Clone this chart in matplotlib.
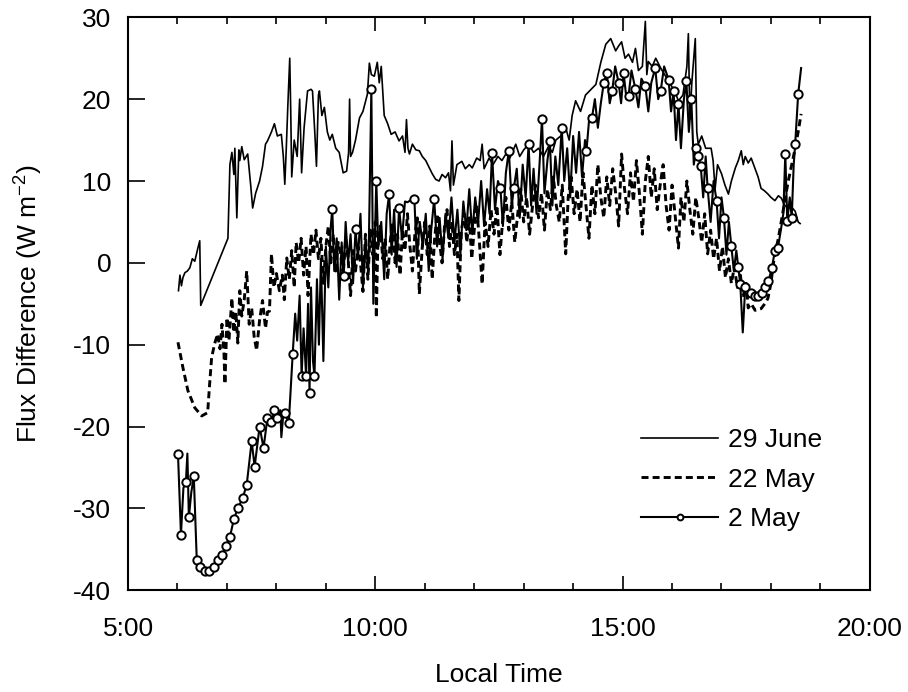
import matplotlib.pyplot as plt
from matplotlib.ticker import FixedLocator, MultipleLocator, FuncFormatter

plt.rcParams['font.family'] = ['Liberation Sans', 'DejaVu Sans']
plt.rcParams['mathtext.default'] = 'regular'
plt.rcParams['axes.unicode_minus'] = False

# --- 29 June (thin solid line) ---
june_t = [6.02, 6.05, 6.08, 6.11, 6.15, 6.20, 6.25, 6.30, 6.35, 6.40, 6.45, 6.47,
          7.02, 7.06, 7.10, 7.14, 7.16, 7.20, 7.24, 7.26, 7.30, 7.35, 7.42, 7.48,
          7.52, 7.58, 7.66, 7.72, 7.78, 7.82, 7.90, 7.96, 8.02, 8.10, 8.14, 8.17,
          8.20, 8.23, 8.27, 8.29, 8.31, 8.36, 8.42, 8.47, 8.51, 8.56, 8.63, 8.70,
          8.73, 8.78, 8.81, 8.85, 8.87, 8.92, 8.97, 9.03, 9.08, 9.13, 9.20, 9.27,
          9.35, 9.42, 9.46, 9.48, 9.50, 9.54, 9.60, 9.68, 9.75, 9.84, 9.88, 9.92,
          9.98, 10.04, 10.08, 10.12, 10.18, 10.25, 10.32, 10.40, 10.48, 10.55, 10.60, 10.63,
          10.66, 10.69, 10.75, 10.82, 10.89, 10.95, 11.02, 11.10, 11.15, 11.22, 11.29, 11.35,
          11.42, 11.48, 11.52, 11.55, 11.58, 11.65, 11.75, 11.82, 11.90, 11.96, 12.05, 12.12,
          12.16, 12.20, 12.30, 12.38, 12.48, 12.56, 12.64, 12.72, 12.84, 12.92, 13.00, 13.10,
          13.20, 13.30, 13.40, 13.50, 13.58, 13.65, 13.75, 13.85, 13.92, 13.98, 14.05, 14.15,
          14.25, 14.38, 14.46, 14.56, 14.66, 14.76, 14.86, 14.92, 14.98, 15.05, 15.12, 15.20,
          15.26, 15.32, 15.40, 15.46, 15.49, 15.52, 15.60, 15.67, 15.77, 15.85, 15.93, 16.05,
          16.13, 16.22, 16.30, 16.33, 16.36, 16.40, 16.47, 16.50, 16.53, 16.60, 16.68, 16.79,
          16.83, 16.87, 16.92, 17.00, 17.07, 17.14, 17.20, 17.28, 17.34, 17.40, 17.44, 17.48,
          17.54, 17.60, 17.68, 17.74, 17.80, 17.87, 17.94, 18.00, 18.08, 18.15, 18.21, 18.28,
          18.35, 18.42, 18.49, 18.55, 18.59]
june_v = [-3.4, -1.5, -2.8, -1.8, -1.2, -1.0, -0.6, 0.5, 0.2, 1.5, 2.7, -5.2,
          3.0, 12.0, 13.5, 10.8, 14.0, 5.5, 13.8, 12.5, 14.2, 12.6, 13.3, 9.5,
          6.7, 8.5, 10.0, 11.8, 14.5, 14.9, 16.0, 17.0, 15.5, 15.7, 13.0, 9.6,
          14.0, 19.0, 25.0, 18.5, 10.5, 15.0, 13.0, 20.0, 11.0, 16.5, 21.0, 21.2,
          21.0, 15.5, 11.8, 20.5, 21.0, 18.0, 19.0, 16.0, 15.0, 15.7, 14.0, 13.5,
          11.0, 11.2, 13.5, 20.0, 13.0, 13.5, 15.0, 17.7, 18.5, 20.6, 24.4, 23.0,
          22.8, 24.5, 22.0, 24.0, 18.0, 17.0, 15.7, 16.0, 14.9, 15.5, 13.5, 17.5,
          14.0, 13.3, 14.5, 13.8, 13.7, 13.0, 12.5, 11.5, 10.9, 10.2, 10.0, 10.8,
          10.4, 11.0, 8.8, 14.9, 9.5, 12.0, 12.4, 11.5, 12.0, 11.6, 12.8, 12.5,
          14.5, 11.5, 12.8, 12.0, 13.0, 12.5, 13.3, 12.8, 14.5, 13.0, 13.8, 14.5,
          13.5, 14.0, 13.0, 14.2, 13.5, 15.0, 15.5, 16.5, 15.0, 18.0, 19.8, 18.5,
          20.5, 21.3, 21.8, 24.5, 26.7, 27.4, 25.9, 26.5, 27.0, 25.0, 25.5, 24.5,
          26.2, 23.5, 24.0, 29.5, 23.0, 24.6, 24.0, 25.0, 23.8, 23.0, 22.2, 21.0,
          19.8, 20.5, 24.0, 28.0, 17.5, 22.0, 27.4, 16.0, 14.5, 15.5, 14.0, 14.0,
          12.5, 9.0, 12.0, 10.9, 9.5, 8.4, 10.0, 11.6, 12.5, 13.7, 12.0, 13.0,
          12.2, 12.8, 11.5, 10.5, 9.1, 8.8, 8.4, 8.0, 7.6, 8.2, 7.9, 7.0,
          6.7, 6.8, 6.3, 5.0, 4.8]

# --- 22 May (dashed line) ---
may22_t = [6.01, 6.11, 6.21, 6.35, 6.49, 6.61, 6.65, 6.69, 6.75, 6.81, 6.86, 6.90,
           6.94, 6.96, 7.00, 7.04, 7.07, 7.10, 7.14, 7.18, 7.22, 7.26, 7.30, 7.35,
           7.40, 7.45, 7.50, 7.55, 7.60, 7.66, 7.72, 7.78, 7.82, 7.86, 7.90, 7.95,
           8.00, 8.06, 8.12, 8.16, 8.21, 8.26, 8.31, 8.36, 8.40, 8.45, 8.50, 8.55,
           8.60, 8.64, 8.70, 8.75, 8.80, 8.85, 8.90, 8.95, 9.00, 9.05, 9.10, 9.15,
           9.20, 9.25, 9.30, 9.35, 9.40, 9.45, 9.50, 9.55, 9.60, 9.65, 9.70, 9.75,
           9.80, 9.85, 9.90, 9.95, 10.00, 10.02, 10.05, 10.10, 10.15, 10.20, 10.25, 10.30,
           10.35, 10.40, 10.45, 10.50, 10.55, 10.60, 10.65, 10.70, 10.75, 10.80, 10.85, 10.89,
           10.95, 11.00, 11.05, 11.10, 11.15, 11.20, 11.25, 11.30, 11.35, 11.40, 11.45, 11.50,
           11.55, 11.60, 11.65, 11.69, 11.74, 11.80, 11.85, 11.90, 11.95, 12.00, 12.05, 12.10,
           12.16, 12.22, 12.28, 12.34, 12.40, 12.46, 12.52, 12.58, 12.64, 12.70, 12.76, 12.82,
           12.88, 12.94, 13.00, 13.06, 13.12, 13.18, 13.24, 13.30, 13.36, 13.42, 13.48, 13.54,
           13.60, 13.66, 13.72, 13.78, 13.85, 13.90, 13.96, 14.02, 14.08, 14.14, 14.20, 14.26,
           14.32, 14.38, 14.44, 14.50, 14.56, 14.62, 14.68, 14.74, 14.80, 14.86, 14.92, 14.98,
           15.04, 15.10, 15.16, 15.22, 15.28, 15.34, 15.40, 15.46, 15.52, 15.58, 15.64, 15.70,
           15.76, 15.82, 15.88, 15.94, 16.00, 16.06, 16.13, 16.18, 16.24, 16.30, 16.36, 16.42,
           16.48, 16.54, 16.60, 16.66, 16.72, 16.78, 16.84, 16.90, 16.96, 17.02, 17.08, 17.14,
           17.20, 17.26, 17.32, 17.38, 17.44, 17.50, 17.54, 17.60, 17.68, 17.80, 17.90, 17.94,
           18.00, 18.04, 18.08, 18.15, 18.21, 18.28, 18.35, 18.42, 18.49, 18.55, 18.61]
may22_v = [-9.7, -12.8, -15.6, -17.7, -18.7, -18.3, -14.8, -11.6, -9.9, -8.7, -10.5, -7.5,
           -11.0, -14.8, -6.7, -9.5, -7.0, -4.3, -8.5, -6.0, -9.8, -3.4, -6.5, -4.5,
           -1.0, -7.5, -5.5, -9.0, -10.7, -7.0, -4.6, -8.0, -6.0, -5.9, 1.1, -3.0,
           -1.3, -3.4, -1.5, -4.5, 0.6, -2.0, 1.5, -3.0, 2.5, 0.0, 3.0, -1.5,
           2.0, -4.0, 3.5, 1.0, 4.0, 0.5, 3.0, -2.5, 2.0, 4.5, 0.0, 3.5,
           -1.0, 2.5, 1.0, -1.5, 3.0, 0.5, -4.0, 1.5, -1.0, 2.0, 0.0, -3.5,
           3.5, -2.0, 4.0, 1.0, 5.0, -6.7, 2.0, 4.5, 0.5, 3.0, -2.0, 2.5,
           5.0, 0.0, 3.5, -1.5, 4.0, 1.5, 6.0, 2.0, -1.0, 3.5, 5.5, -3.8,
           2.0, 5.0, 1.0, 4.5, -2.0, 3.0, 6.0, 2.5, 0.0, 4.5, 6.5, 2.0,
           5.0, 1.0, 3.5, -4.6, 4.0, 6.0, 2.5, 5.5, 0.5, 4.0, 7.0, 3.0,
           -2.6, 5.0, 2.0, 6.5, 3.5, 7.0, 1.0, 5.5, 8.0, 4.0, 7.5, 2.5,
           6.0, 9.0, 5.0, 8.0, 3.5, 7.0, 9.5, 5.5, 8.5, 4.0, 9.0, 6.5,
           10.5, 7.0, 5.0, 9.5, 1.1, 8.0, 10.5, 6.0, 9.0, 5.0, 11.0, 7.0,
           3.0, 9.5, 6.0, 12.0, 8.0, 5.5, 10.5, 7.0, 11.5, 8.5, 4.5, 13.3,
           9.0, 6.0, 11.0, 7.5, 12.5, 8.5, 3.5, 10.0, 13.0, 8.0, 11.5, 6.5,
           9.5, 12.0, 7.0, 4.0, 9.5, 6.0, 1.8, 8.0, 5.0, 10.0, 6.5, 3.5,
           8.0, 5.5, 2.5, 6.0, 1.1, 4.0, 0.5, 3.0, -1.0, 2.0, -1.8, 0.5,
           -2.5, -0.5, -3.0, -1.5, -4.0, -2.5, -5.5, -5.0, -5.8, -5.6, -4.8, -4.3,
           -2.5, -0.5, 1.1, 3.0, 5.1, 7.5, 10.0, 12.0, 14.0, 16.0, 18.2]

# --- 2 May (solid line, open circles where mark == 1) ---
may2_t = [6.01, 6.07, 6.12, 6.17, 6.20, 6.23, 6.28, 6.33, 6.39, 6.45, 6.55, 6.63,
          6.73, 6.81, 6.90, 6.98, 7.06, 7.14, 7.22, 7.32, 7.40, 7.50, 7.56, 7.66,
          7.74, 7.82, 7.90, 7.96, 8.02, 8.08, 8.10, 8.14, 8.17, 8.25, 8.33, 8.38,
          8.42, 8.47, 8.51, 8.55, 8.60, 8.64, 8.67, 8.70, 8.74, 8.77, 8.82, 8.86,
          8.90, 8.95, 9.00, 9.05, 9.10, 9.13, 9.17, 9.22, 9.27, 9.32, 9.36, 9.40,
          9.45, 9.50, 9.55, 9.60, 9.65, 9.70, 9.75, 9.80, 9.86, 9.92, 9.96, 10.02,
          10.06, 10.12, 10.18, 10.23, 10.28, 10.33, 10.38, 10.43, 10.48, 10.54, 10.60, 10.65,
          10.70, 10.79, 10.84, 10.90, 10.96, 11.02, 11.08, 11.13, 11.19, 11.25, 11.30, 11.36,
          11.42, 11.48, 11.54, 11.60, 11.66, 11.72, 11.78, 11.84, 11.90, 11.96, 12.02, 12.08,
          12.14, 12.20, 12.26, 12.31, 12.36, 12.42, 12.48, 12.53, 12.58, 12.64, 12.70, 12.76,
          12.80, 12.86, 12.92, 12.98, 13.04, 13.10, 13.15, 13.20, 13.26, 13.32, 13.37, 13.42,
          13.48, 13.53, 13.58, 13.64, 13.70, 13.77, 13.82, 13.88, 13.94, 14.00, 14.06, 14.12,
          14.18, 14.24, 14.27, 14.33, 14.38, 14.44, 14.50, 14.56, 14.62, 14.68, 14.74, 14.79,
          14.85, 14.92, 14.97, 15.02, 15.08, 15.12, 15.18, 15.26, 15.32, 15.38, 15.46, 15.52,
          15.58, 15.66, 15.72, 15.77, 15.84, 15.93, 15.98, 16.03, 16.08, 16.13, 16.18, 16.24,
          16.29, 16.34, 16.39, 16.44, 16.49, 16.53, 16.58, 16.63, 16.68, 16.72, 16.78, 16.84,
          16.90, 16.95, 17.00, 17.05, 17.10, 17.15, 17.20, 17.25, 17.30, 17.34, 17.38, 17.43,
          17.48, 17.60, 17.67, 17.74, 17.81, 17.88, 17.95, 18.02, 18.08, 18.14, 18.20, 18.25,
          18.29, 18.33, 18.38, 18.42, 18.46, 18.49, 18.55, 18.61]
may2_v = [-23.3, -33.2, -27.5, -26.8, -23.3, -31.1, -28.0, -26.1, -36.3, -37.2, -37.6, -37.6,
          -37.2, -36.3, -35.7, -34.6, -33.5, -31.3, -30.0, -28.7, -27.1, -21.8, -24.9, -20.0,
          -22.6, -18.9, -19.5, -18.0, -19.0, -18.0, -21.3, -18.5, -18.3, -19.6, -11.1, -6.2,
          -9.5, -4.0, -13.8, -8.0, -13.8, -5.0, -15.9, -3.0, -12.0, -13.8, -2.0, -10.0,
          0.5, -12.0, 2.0, -3.0, 4.5, 6.6, -1.0, 3.0, -4.5, 2.5, -1.6, 5.0,
          0.0, 3.5, -2.5, 4.1, 0.5, 6.0, -3.0, 2.5, -1.0, 21.2, -5.0, 10.0,
          2.0, 5.0, -2.0, 6.0, 8.4, 1.0, 6.5, -0.5, 6.7, 3.0, 7.5, 7.4,
          7.6, 7.8, 0.5, 5.0, 2.0, 6.0, -1.0, 4.0, 7.8, 2.0, 5.5, 0.5,
          6.0, 3.0, 8.0, 2.5, 6.5, 1.0, 7.5, 4.0, 9.0, 3.5, 8.0, 5.0,
          10.0, 4.5, 9.0, 6.0, 13.4, 6.5, 10.0, 9.1, 4.5, 11.0, 13.7, 7.0,
          9.1, 11.5, 5.5, 12.0, 8.0, 14.5, 7.0, 11.5, 6.0, 12.0, 17.6, 8.5,
          12.5, 14.9, 7.0, 13.0, 9.5, 16.5, 10.0, 14.0, 8.0, 15.5, 11.0, 16.0,
          10.5, 15.0, 13.7, 18.0, 17.7, 20.0, 16.5, 19.5, 22.0, 23.2, 19.5, 21.0,
          24.0, 22.0, 19.5, 23.2, 20.0, 20.4, 23.5, 21.2, 19.0, 22.5, 21.6, 18.5,
          22.0, 23.8, 20.0, 21.0, 24.0, 22.4, 18.5, 21.0, 15.0, 19.4, 14.0, 20.0,
          22.2, 16.0, 20.0, 12.0, 14.0, 13.0, 11.8, 8.0, 13.0, 9.1, 5.0, 10.0,
          7.6, 3.0, 8.0, 5.5, 1.0, 5.0, 2.0, -1.0, 1.5, -0.5, -2.6, -8.5,
          -3.0, -3.7, -4.0, -4.0, -3.7, -3.0, -2.2, -0.6, 1.5, 1.8, 4.0, 6.0,
          13.3, 5.1, 8.0, 5.5, 12.0, 14.5, 20.6, 23.8]
may2_mark = [1, 1, 0, 1, 0, 1, 0, 1, 1, 1, 1, 1,
             1, 1, 1, 1, 1, 1, 1, 1, 1, 1, 1, 1,
             1, 1, 1, 1, 1, 0, 0, 0, 1, 1, 1, 0,
             0, 0, 1, 0, 1, 0, 1, 0, 0, 1, 0, 0,
             0, 0, 0, 0, 0, 1, 0, 0, 0, 0, 1, 0,
             0, 0, 0, 1, 0, 0, 0, 0, 0, 1, 0, 1,
             0, 0, 0, 0, 1, 0, 0, 0, 1, 0, 0, 0,
             0, 1, 0, 0, 0, 0, 0, 0, 1, 0, 0, 0,
             0, 0, 0, 0, 0, 0, 0, 0, 0, 0, 0, 0,
             0, 0, 0, 0, 1, 0, 0, 1, 0, 0, 1, 0,
             1, 0, 0, 0, 0, 1, 0, 0, 0, 0, 1, 0,
             0, 1, 0, 0, 0, 1, 0, 0, 0, 0, 0, 0,
             0, 0, 1, 0, 1, 0, 0, 0, 1, 1, 0, 1,
             0, 1, 0, 1, 0, 1, 0, 1, 0, 0, 1, 0,
             0, 1, 0, 1, 0, 1, 0, 1, 0, 1, 0, 0,
             1, 0, 1, 0, 1, 1, 1, 0, 0, 1, 0, 0,
             1, 0, 0, 1, 0, 0, 1, 0, 0, 1, 1, 0,
             1, 1, 1, 1, 1, 1, 1, 1, 1, 1, 0, 0,
             1, 1, 0, 1, 0, 1, 1, 0]

x_ticks = [5, 10, 15, 20]
y_ticks = [-40, -30, -20, -10, 0, 10, 20, 30]

fig = plt.figure(figsize=(9.08, 6.92), dpi=100)
ax = fig.add_axes([0.141, 0.147, 0.817, 0.828])

ax.plot(june_t, june_v, color='black', lw=1.2, label='29 June')
ax.plot(may22_t, may22_v, color='black', lw=2.1, ls=(0, (2.4, 1.4)), label='22 May')
marks = [i for i, m in enumerate(may2_mark) if m]
ax.plot(may2_t, may2_v, color='black', lw=1.5, marker='o', markevery=marks,
        ms=6, mfc='white', mec='black', mew=1.4, label='2 May')

ax.set_xlim(5, 20)
ax.set_ylim(-40, 30)
ax.xaxis.set_major_locator(FixedLocator(x_ticks))
ax.xaxis.set_minor_locator(MultipleLocator(1))
ax.xaxis.set_major_formatter(FuncFormatter(lambda v, p: '%d:00' % v))
ax.yaxis.set_major_locator(FixedLocator(y_ticks))

ax.tick_params(axis='x', which='both', direction='in', top=True, bottom=True,
               labelsize=19, pad=19, width=1.2)
ax.tick_params(axis='x', which='major', length=10)
ax.tick_params(axis='x', which='minor', length=5)
ax.tick_params(axis='y', which='major', direction='in', length=12, width=1.2,
               labelsize=19, pad=12)
for s in ax.spines.values():
    s.set_linewidth(1.5)

ax.set_xlabel('Local Time', fontsize=19, labelpad=16)
ax.set_ylabel('Flux Difference (W m$^{-2}$)', fontsize=19, labelpad=20)

ax.legend(loc='upper left', bbox_to_anchor=(0.66, 0.325), frameon=False,
          fontsize=19, handlelength=2.9, handletextpad=0.4, labelspacing=0.6,
          numpoints=1, markerscale=0.7)

fig.savefig('out.png', dpi=100)
